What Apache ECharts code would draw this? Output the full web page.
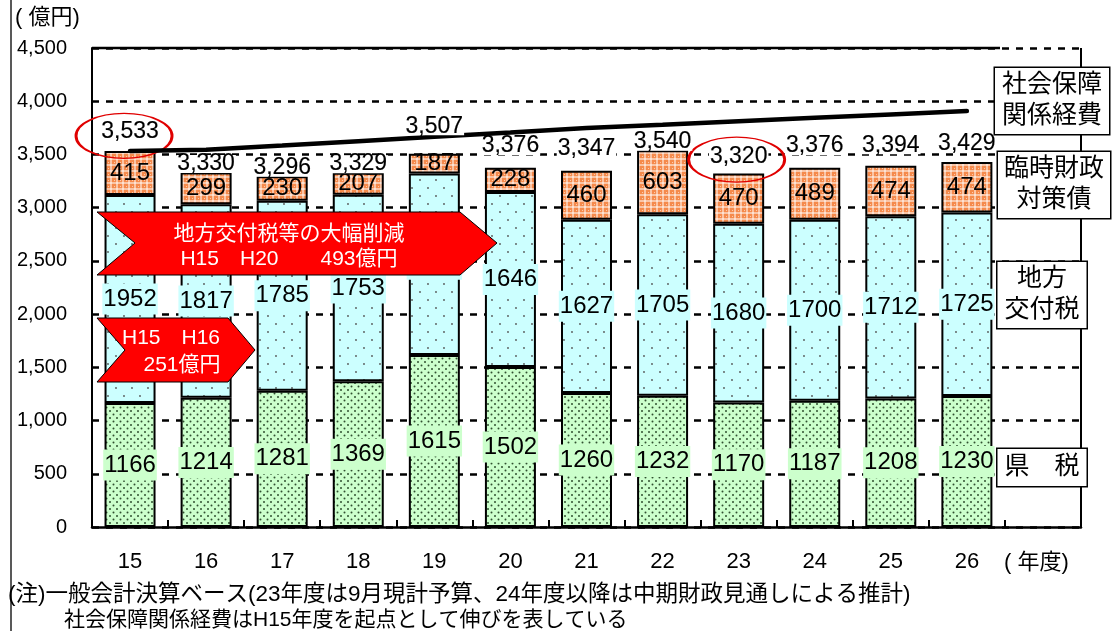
<!DOCTYPE html>
<html><head><meta charset="utf-8">
<script src="https://cdn.jsdelivr.net/npm/echarts@6/dist/echarts.min.js"></script>
<style>html,body{margin:0;padding:0;background:#fff}#c{width:1115px;height:631px}</style>
</head><body><div id="c"></div>
<script>
const categories = ['15','16','17','18','19','20','21','22','23','24','25','26',''];
const prefTax    = [1166,1214,1281,1369,1615,1502,1260,1232,1170,1187,1208,1230];
const allocTax   = [1952,1817,1785,1753,1705,1646,1627,1705,1680,1700,1712,1725];
const tempBonds  = [415,299,230,207,187,228,460,603,470,489,474,474];
const totals     = [3533,3330,3296,3329,3507,3376,3347,3540,3320,3376,3394,3429];
const socialCost = [3533,3545,3583,3625,3666,3707,3749,3780,3812,3844,3876,3908];
const yTicks     = [0,500,1000,1500,2000,2500,3000,3500,4000,4500];
const circled    = ['15','23'];

// label lift above each bar top (style only)
const totalLabelGap = [10,-1,-1,-1,18,12,13,-1,7,12,11,9];

const FONT = "'Liberation Sans','Noto Sans CJK JP',sans-serif";

function pattern(bg, size, draw){
  const c=document.createElement('canvas'); c.width=c.height=size;
  const g=c.getContext('2d'); g.fillStyle=bg; g.fillRect(0,0,size,size); draw(g);
  return {image:c, repeat:'repeat'};
}
function dot(g,x,y,r,col){g.fillStyle=col;g.beginPath();g.arc(x,y,r,0,Math.PI*2);g.fill();}
const greenPat = pattern('#ccffcc',7,g=>{dot(g,1.5,1.5,1,'#2f4f2f');dot(g,5,5,1,'#2f4f2f');});
const bluePat  = pattern('#ccffff',16,g=>{dot(g,4,4,0.9,'#555');dot(g,12,12,0.9,'#555');});
const orangePat= pattern('#f58a4c',6,g=>{g.fillStyle='#fff';g.fillRect(0,2.5,6,1);g.fillRect(2.5,0,1,6);dot(g,0,0,1,'#fde0cc');});

const fmt = v => Number(v).toLocaleString('en-US');

function barSeries(name, data, fill, labelBg){
  return {
    name, type:'bar', stack:'a', data, barWidth:51,
    itemStyle:{color:fill, borderColor:'#000', borderWidth:2},
    label:{show:true, position:'inside', color:'#000', fontSize:24, fontFamily:FONT,
      backgroundColor:labelBg||'transparent', padding:[3,1], lineHeight:25},
    z:2
  };
}

const txt = (text,x,y,size,extra,z) => ({type:'text', z:z||10, style:Object.assign({text, x, y, font:size+'px '+FONT, fill:'#000', textVerticalAlign:'middle', verticalAlign:'middle'}, extra||{})});
const box = (text,x,y,pad) => ({type:'text', z:30, style:{text, x, y, font:"25px "+FONT, lineHeight:31, fill:'#000', backgroundColor:'#fff', borderColor:'#000', borderWidth:1.5, padding:pad, textAlign:'center', align:'center', textVerticalAlign:'top', verticalAlign:'top'}});

const chart = echarts.init(document.getElementById('c'));
chart.setOption({
  animation:false,
  grid:{left:92,right:34,top:48,bottom:104},
  xAxis:{type:'category', data:categories, boundaryGap:true,
    axisLine:{lineStyle:{color:'#000',width:2.5}},
    axisTick:{show:true,inside:true,length:7,lineStyle:{color:'#000',width:2}},
    axisLabel:{color:'#000',fontSize:22,fontFamily:FONT,margin:24}},
  yAxis:{type:'value', min:yTicks[0], max:yTicks[yTicks.length-1], interval:yTicks[1]-yTicks[0],
    axisLine:{show:true,lineStyle:{color:'#000',width:2}},
    axisTick:{show:false},
    axisLabel:{color:'#000',fontSize:20,fontFamily:FONT,margin:25,formatter:v=>fmt(v)},
    splitLine:{show:true,lineStyle:{color:'#000',width:2.5,type:[7,7]}}},
  series:[
    barSeries('県税', prefTax, greenPat, '#ccffcc'),
    barSeries('地方交付税', allocTax, bluePat, '#ccffff'),
    barSeries('臨時財政対策債', tempBonds, orangePat, null),
    {name:'社会保障関係経費', type:'line', data:socialCost, symbol:'none', z:5,
      lineStyle:{color:'#000',width:4.5,cap:'round'}},
    {name:'合計', type:'scatter', symbolSize:1, z:6,
      data: totals.map((v,i)=>({value:v, label:{distance:totalLabelGap[i]}})),
      itemStyle:{color:'rgba(0,0,0,0)', opacity:1},
      label:{show:true, position:'top', color:'#000', opacity:1, fontSize:23, fontFamily:FONT,
        backgroundColor:'#fff', padding:[0,1], lineHeight:18,
        textBorderColor:'#000', textBorderWidth:0.15, formatter:p=>fmt(p.value)},
      emphasis:{disabled:true},
      markPoint:{symbol:'circle', silent:true, label:{show:false},
        itemStyle:{color:'rgba(0,0,0,0)', borderColor:'#e00000', borderWidth:2},
        data: circled.map((c,k)=>{const i=categories.indexOf(c);
          return {coord:[i, totals[i]], symbolSize:[96,45], symbolOffset:k===0?[-6,-15]:[-2,-14]};})}
    }
  ],
  graphic:[
    {type:'line', shape:{x1:11,y1:0,x2:11,y2:631}, style:{stroke:'#222',lineWidth:1.5}, z:1},
    {type:'line', shape:{x1:1081,y1:48,x2:1081,y2:527}, style:{stroke:'#000',lineWidth:2}, z:1},
    {type:'line', shape:{x1:92,y1:48,x2:1000,y2:48}, style:{stroke:'#000',lineWidth:2.5}, z:1},
    txt('( 億円)', 15, 18, 22),
    txt('( 年度)', 1004, 563, 22),
    txt('(注)一般会計決算ベース(23年度は9月現計予算、24年度以降は中期財政見通しによる推計)', 8, 595, 22.5),
    txt('社会保障関係経費はH15年度を起点として伸びを表している', 64, 620, 21),
    // arrows
    {type:'polygon', z:20, shape:{points:[[97,212],[460,212],[497,243],[460,275],[97,275],[135,243]]}, style:{fill:'#ff0000',stroke:'#000',lineWidth:1}},
    txt('地方交付税等の大幅削減\nH15　H20　　493億円', 289, 247, 21, {lineHeight:25, fill:'#fff', textAlign:'center', align:'center'}, 21),
    {type:'polygon', z:20, shape:{points:[[97,318],[228,318],[255,350],[228,382],[97,382],[125,350]]}, style:{fill:'#ff0000',stroke:'#000',lineWidth:1}},
    txt('H15　H16', 171, 338, 21, {fill:'#fff', textAlign:'center', align:'center'}, 21),
    txt('251億円', 182, 365, 21, {fill:'#fff', textAlign:'center', align:'center'}, 21),
    // legend boxes
    box('社会保障\n関係経費', 1052, 68, [2,7]),
    box('臨時財政\n対策債', 1054, 152, [2,6]),
    box('地方\n交付税', 1042, 262, [2,7]),
    box('県　税', 1042, 449, [3,7])
  ]
});
</script></body></html>
